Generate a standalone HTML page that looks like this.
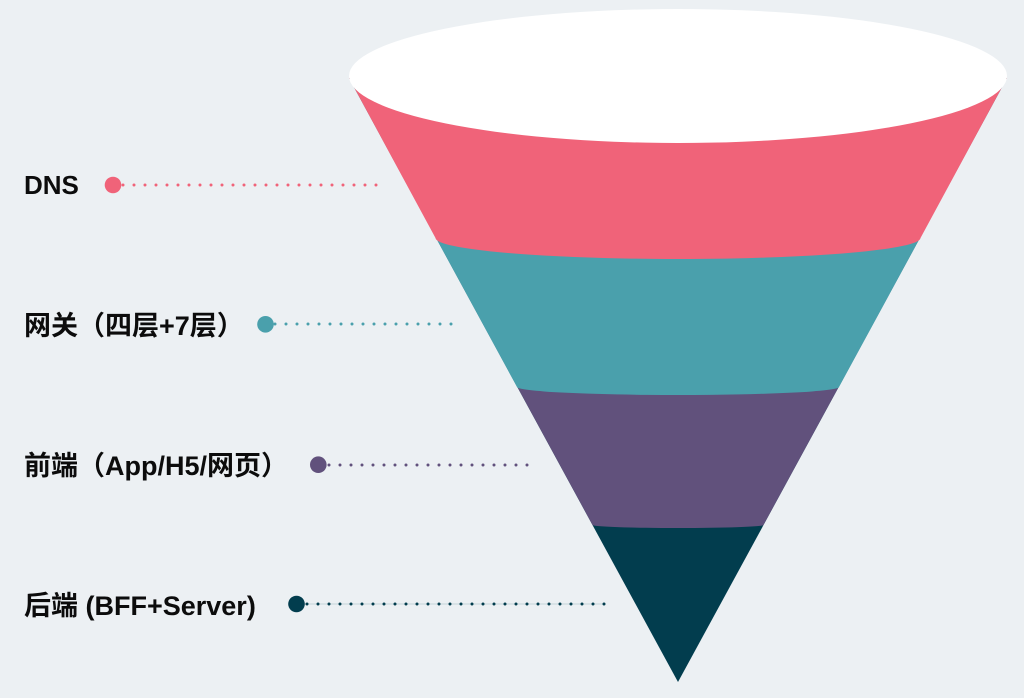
<!DOCTYPE html>
<html>
<head>
<meta charset="utf-8">
<style>
  html, body { margin:0; padding:0; background:#ECF0F3; }
  body { width:1024px; height:698px; overflow:hidden; }
  svg { display:block; }
  .lbl { font-family:"Liberation Sans","Noto Sans CJK SC",sans-serif; font-weight:bold; font-size:27px; fill:#0c0c0c; }
</style>
</head>
<body>
<svg width="1024" height="698" viewBox="0 0 1024 698" xmlns="http://www.w3.org/2000/svg">
  <rect x="0" y="0" width="1024" height="698" fill="#ECF0F3"/>

  <!-- funnel: dark full -->
  <path d="M349,78 L1007,78 L678,682 Z" fill="#023D4E"/>
  <!-- purple: above boundary 3 -->
  <path d="M349,78 L592.5,525 A85.5,3 0 0 0 763.5,525 L1007,78 Z" fill="#61517C"/>
  <!-- teal: above boundary 2 -->
  <path d="M349,78 L517,387 A161,8 0 0 0 839,387 L1007,78 Z" fill="#4AA0AC"/>
  <!-- pink: above boundary 1 -->
  <path d="M349,78 L435.5,238 A242.5,21 0 0 0 920.5,238 L1007,78 Z" fill="#F06379"/>
  <!-- top ellipse -->
  <ellipse cx="678" cy="76" rx="329" ry="67" fill="#FFFFFF"/>

  <!-- DNS -->
  <text class="lbl" x="24" y="194" style="font-size:26px">DNS</text>
  <line x1="123" y1="185" x2="377" y2="185" stroke="#F06379" stroke-width="3" stroke-linecap="round" stroke-dasharray="0 11"/>
  <circle cx="113" cy="185" r="8.3" fill="#F06379"/>

  <!-- 网关 -->
  <text class="lbl" x="24" y="335">网关（四层+7层）</text>
  <line x1="275" y1="324" x2="460" y2="324" stroke="#4AA0AC" stroke-width="3" stroke-linecap="round" stroke-dasharray="0 11"/>
  <circle cx="265.5" cy="324.3" r="8.3" fill="#4AA0AC"/>

  <!-- 前端 -->
  <text class="lbl" x="24" y="475">前端（App/H5/网页）</text>
  <line x1="329" y1="465" x2="529" y2="465" stroke="#61517C" stroke-width="3" stroke-linecap="round" stroke-dasharray="0 11"/>
  <circle cx="318.3" cy="464.7" r="8.3" fill="#61517C"/>

  <!-- 后端 -->
  <text class="lbl" x="24" y="615">后端 (BFF+Server)</text>
  <line x1="300" y1="604" x2="604" y2="604" stroke="#C3D3D9" stroke-width="1"/>
  <line x1="307" y1="604" x2="605" y2="604" stroke="#023D4E" stroke-width="3" stroke-linecap="round" stroke-dasharray="0 11"/>
  <circle cx="296.5" cy="604" r="8.3" fill="#023D4E"/>
</svg>
</body>
</html>
